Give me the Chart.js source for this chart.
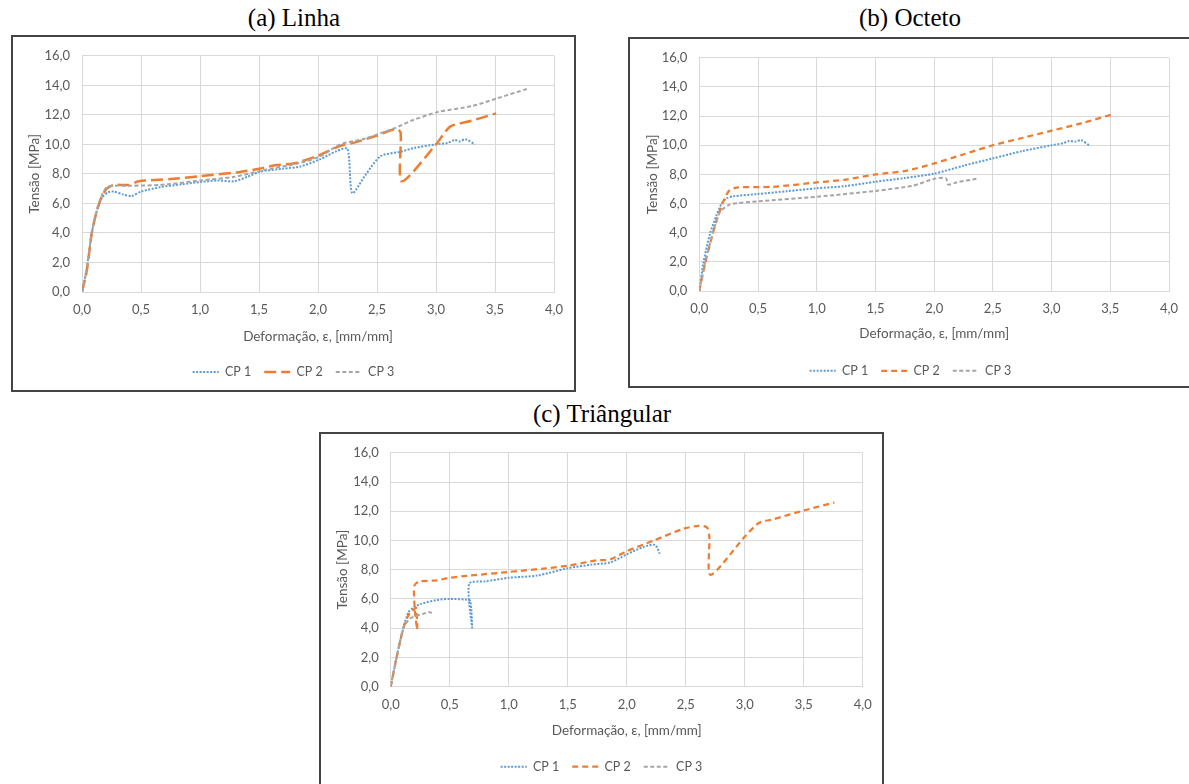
<!DOCTYPE html>
<html>
<head>
<meta charset="utf-8">
<script src="https://cdn.jsdelivr.net/npm/chart.js@4.4.1/dist/chart.umd.min.js"></script>
<style>
  html, body { margin: 0; padding: 0; background: #fff; }
  body { width: 1189px; height: 784px; position: relative; overflow: hidden; }
  .cap { position: absolute; font-family: "Liberation Serif", "Times New Roman", serif; font-size: 25px; color: #000;
         transform: translate(-50%, -50%); white-space: nowrap; }
  .box { position: absolute; border: 2px solid #444; box-sizing: border-box; background: #fff; }
  canvas { position: absolute; }
</style>
</head>
<body>
<div class="cap" style="left:294px;top:18px">(a) Linha</div>
<div class="cap" style="left:910px;top:18px">(b) Octeto</div>
<div class="cap" style="left:602px;top:414px">(c) Triângular</div>

<div class="box" style="left:11px;top:35px;width:565px;height:357px"></div>
<div class="box" style="left:628px;top:37px;width:565px;height:351px"></div>
<div class="box" style="left:319px;top:432px;width:565px;height:360px"></div>

<canvas id="linha" width="563" height="355" style="left:12px;top:36px"></canvas>
<canvas id="octeto" width="563" height="349" style="left:629px;top:38px"></canvas>
<canvas id="triangular" width="563" height="358" style="left:320px;top:433px"></canvas>

<script>
"use strict";

// axis ranges
const xMin = 0, xMax = 4, xStep = 0.5;
const yMin = 0, yMax = 16, yStep = 2;
const seriesNames = ["CP 1", "CP 2", "CP 3"];
const xTitle = "Deformação, ε, [mm/mm]";
const yTitle = "Tensão [MPa]";

// (a) Linha: [deformação, tensão]
const linhaCP1 = [[0, 0], [0.04, 1.6], [0.085, 4.1], [0.13, 5.6], [0.17, 6.4], [0.22, 6.75], [0.27, 6.8], [0.35, 6.6],
  [0.42, 6.5], [0.5, 6.8], [0.66, 7.1], [0.85, 7.3], [1.0, 7.45], [1.15, 7.55], [1.29, 7.5], [1.4, 7.8], [1.51, 8.15],
  [1.7, 8.35], [1.85, 8.5], [2.02, 9.0], [2.16, 9.55], [2.25, 9.7], [2.29, 6.7], [2.4, 7.9], [2.53, 9.2], [2.7, 9.5],
  [2.81, 9.75], [3.0, 10.0], [3.1, 10.1], [3.16, 10.3], [3.2, 10.2], [3.25, 10.35], [3.33, 10.0]];
const linhaCP2 = [[0, 0], [0.04, 1.4], [0.085, 4.1], [0.13, 5.6], [0.17, 6.5], [0.21, 7.0], [0.27, 7.25], [0.4, 7.25],
  [0.48, 7.5], [0.75, 7.65], [1.0, 7.85], [1.31, 8.1], [1.5, 8.35], [1.65, 8.6], [1.79, 8.7], [1.99, 9.2], [2.19, 9.9],
  [2.3, 10.1], [2.5, 10.6], [2.66, 11.05], [2.7, 10.8], [2.71, 7.5], [3.0, 10.0], [3.12, 11.2], [3.3, 11.6], [3.51, 12.1]];
const linhaCP3 = [[0, 0], [0.04, 1.5], [0.085, 4.1], [0.13, 5.7], [0.17, 6.6], [0.21, 7.1], [0.27, 7.2], [0.41, 7.2],
  [0.66, 7.25], [1.0, 7.55], [1.29, 7.8], [1.51, 8.2], [1.85, 8.75], [2.02, 9.2], [2.19, 10.0], [2.4, 10.4],
  [2.65, 11.1], [2.79, 11.6], [3.02, 12.2], [3.31, 12.6], [3.51, 13.1], [3.77, 13.75]];

// (b) Octeto
const octetoCP1 = [[0, 0], [0.034, 1.9], [0.09, 3.9], [0.147, 5.2], [0.19, 6.0], [0.23, 6.35], [0.29, 6.5], [0.49, 6.65],
  [0.75, 6.85], [1.0, 7.05], [1.25, 7.2], [1.5, 7.5], [1.75, 7.75], [2.0, 8.05], [2.25, 8.6], [2.5, 9.1], [2.75, 9.6],
  [3.0, 10.0], [3.1, 10.15], [3.15, 10.3], [3.2, 10.25], [3.25, 10.35], [3.32, 10.0]];
const octetoCP2 = [[0, 0], [0.05, 1.9], [0.12, 4.1], [0.19, 5.85], [0.25, 6.85], [0.32, 7.1], [0.63, 7.15], [1.0, 7.45],
  [1.25, 7.65], [1.5, 8.0], [1.76, 8.25], [2.0, 8.75], [2.24, 9.35], [2.5, 10.0], [2.75, 10.5], [3.0, 11.0],
  [3.25, 11.5], [3.51, 12.1]];
const octetoCP3 = [[0, 0], [0.04, 1.65], [0.12, 4.1], [0.175, 5.4], [0.25, 5.9], [0.32, 6.03], [0.5, 6.15], [1.0, 6.47],
  [1.5, 6.87], [1.82, 7.23], [2.0, 7.7], [2.1, 7.75], [2.12, 7.3], [2.19, 7.45], [2.36, 7.7]];

// (c) Triângular
const triCP1 = [[0, 0], [0.05, 2.0], [0.107, 4.0], [0.15, 5.1], [0.19, 5.4], [0.25, 5.65], [0.39, 5.93], [0.5, 6.0],
  [0.64, 5.95], [0.675, 5.85], [0.69, 4.05], [0.665, 7.05], [0.8, 7.2], [1.0, 7.45], [1.24, 7.6], [1.5, 8.1],
  [1.7, 8.35], [1.86, 8.5], [2.0, 9.05], [2.14, 9.55], [2.24, 9.7], [2.28, 9.1]];
const triCP2 = [[0, 0], [0.05, 2.0], [0.107, 4.0], [0.164, 5.1], [0.2, 5.3], [0.215, 5.4], [0.225, 3.9], [0.205, 5.2],
  [0.2, 6.9], [0.24, 7.2], [0.39, 7.27], [0.5, 7.45], [0.67, 7.6], [1.0, 7.85], [1.32, 8.1], [1.5, 8.27], [1.75, 8.65],
  [1.86, 8.7], [2.0, 9.27], [2.23, 10.0], [2.48, 10.8], [2.61, 11.0], [2.68, 10.9], [2.7, 10.3], [2.71, 7.65],
  [3.0, 10.25], [3.12, 11.2], [3.24, 11.45], [3.5, 12.05], [3.76, 12.6]];
const triCP3 = [[0, 0], [0.05, 2.0], [0.107, 4.0], [0.15, 4.55], [0.19, 4.78], [0.28, 5.0], [0.33, 5.1], [0.35, 5.05]];

// line styles (Excel palette)
const dotted = { borderColor: "#5B9BD5", borderWidth: 2, borderDash: [2, 1.5] };
const dashed = { borderColor: "#ED7D31", borderWidth: 2.25, borderDash: [6, 4] };
const longDash = { borderColor: "#ED7D31", borderWidth: 2.5, borderDash: [12, 5] };
const shortDash = { borderColor: "#A5A5A5", borderWidth: 2, borderDash: [4, 2.5] };

const tickSize = 13, titleSize = 13.5, legendSize = 12.5;

Chart.defaults.font.family = "Lato, 'Open Sans', sans-serif";
Chart.defaults.color = "#595959";

function fmt(v) {
  return v.toFixed(1).replace(".", ",");
}

function series(name, pts, style, order) {
  return Object.assign({
    label: name,
    data: pts.map(function (p) { return {x: p[0], y: p[1]}; }),
    order: order,
    fill: false,
    tension: 0.25,
    pointRadius: 0,
    pointHoverRadius: 0
  }, style);
}

// box: plot area edges and label centres inside the canvas
function draw(id, box, sets) {
  const legendPad = 13, lh = titleSize * 1.2;
  const canvas = document.getElementById(id);
  const xAxisH = box.legendY - box.plotBottom - legendPad - legendSize / 2;
  const titleBottom = xAxisH - (box.xTitleY - box.plotBottom) - lh / 2;
  const padBottom = Math.max(0, canvas.height - (box.legendY + legendSize / 2 + 10));

  new Chart(canvas.getContext("2d"), {
    type: "line",
    data: {
      datasets: [
        series(seriesNames[0], sets[0], dotted, 2),
        series(seriesNames[1], sets[1], sets[3] || dashed, 1),
        series(seriesNames[2], sets[2], shortDash, 0)
      ]
    },
    options: {
      responsive: false,
      animation: false,
      events: [],
      layout: { padding: { top: box.plotTop, left: 0, right: 0, bottom: padBottom } },
      scales: {
        x: {
          type: "linear", min: xMin, max: xMax,
          ticks: { stepSize: xStep, padding: 10, callback: fmt, font: { size: tickSize } },
          grid: { color: "#D9D9D9", drawTicks: false },
          border: { color: "#D9D9D9" },
          title: { display: true, text: xTitle, font: { size: titleSize }, padding: { top: 0, bottom: titleBottom } },
          afterFit: function (s) { s.height = xAxisH; }
        },
        y: {
          type: "linear", min: yMin, max: yMax,
          ticks: { stepSize: yStep, padding: 12, callback: fmt, font: { size: tickSize } },
          grid: { color: "#D9D9D9", drawTicks: false },
          border: { color: "#D9D9D9" },
          title: { display: true, text: yTitle, font: { size: titleSize }, padding: { top: box.yTitleX - lh / 2, bottom: 0 } },
          afterFit: function (s) { s.width = box.plotLeft; }
        },
        // empty right axis keeps the plot off the frame and the legend centred
        yRight: {
          type: "linear", position: "right",
          ticks: { display: false }, grid: { display: false }, border: { display: false },
          afterFit: function (s) { s.width = box.rightPad; }
        }
      },
      plugins: {
        tooltip: { enabled: false },
        legend: {
          position: "bottom",
          labels: {
            usePointStyle: true,
            pointStyle: "line",
            pointStyleWidth: 26,
            padding: legendPad,
            font: { size: legendSize },
            color: "#595959",
            sort: function (a, b) { return a.datasetIndex - b.datasetIndex; },
            generateLabels: function (chart) {
              const items = Chart.defaults.plugins.legend.labels.generateLabels(chart);
              items.forEach(function (it) {
                const ds = chart.data.datasets[it.datasetIndex];
                it.lineDash = ds.borderDash;
                it.lineWidth = ds.borderWidth;
                it.strokeStyle = ds.borderColor;
                it.pointStyle = "line";
              });
              return items;
            }
          }
        }
      }
    }
  });
}

draw("linha", { plotTop: 13, plotBottom: 256, plotLeft: 70, rightPad: 21, xTitleY: 301, legendY: 336, yTitleX: 23 },
  [linhaCP1, linhaCP2, linhaCP3, longDash]);
draw("octeto", { plotTop: 13.3, plotBottom: 253.3, plotLeft: 70.3, rightPad: 23, xTitleY: 296, legendY: 333, yTitleX: 24 },
  [octetoCP1, octetoCP2, octetoCP3]);
draw("triangular", { plotTop: 13.7, plotBottom: 253.7, plotLeft: 70.7, rightPad: 20.3, xTitleY: 298, legendY: 333.7, yTitleX: 23 },
  [triCP1, triCP2, triCP3]);
</script>
</body>
</html>
